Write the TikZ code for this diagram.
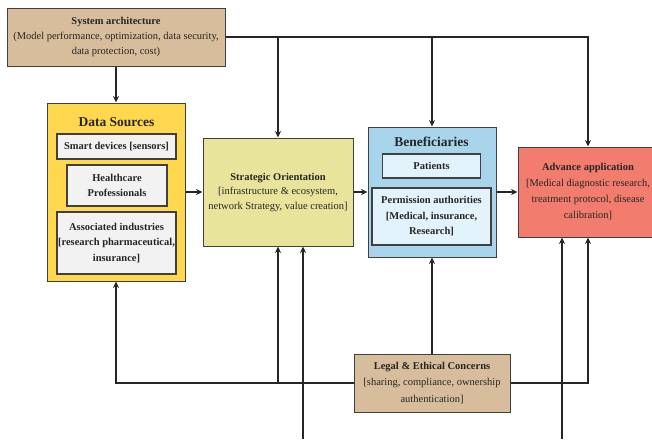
\documentclass[tikz,border=0pt]{standalone}
\usepackage{fontspec}
\setmainfont{Liberation Serif}
\usetikzlibrary{arrows.meta}
\definecolor{tan}{HTML}{D8BD9C}
\definecolor{gold}{HTML}{FFD84F}
\definecolor{khaki}{HTML}{E8E49B}
\definecolor{sky}{HTML}{A9D5EC}
\definecolor{paleblue}{HTML}{E3F3FB}
\definecolor{salmon}{HTML}{F27C6E}
\definecolor{pale}{HTML}{F2F2F2}
\definecolor{ink}{HTML}{262626}
\definecolor{edge}{HTML}{404040}
\tikzset{
  box/.style={draw=edge, line width=1pt, align=center, inner sep=0pt, text=ink,
    font=\fontsize{10.5}{15}\selectfont},
  inbox/.style={box, fill=pale, line width=1.2pt, font=\bfseries\fontsize{10.5}{15.5}\selectfont},
  title/.style={inner sep=0pt, text=ink, font=\bfseries\fontsize{13.5}{15}\selectfont},
  arr/.style={draw=ink, line width=1.7pt, -{Stealth[length=6.5pt,width=6pt]}},
}
\begin{document}
\begin{tikzpicture}[x=1pt,y=-1pt]
\useasboundingbox (0,0) rectangle (652,439);
% nodes
\node[box, fill=tan, minimum width=218pt, minimum height=58pt] (sys) at (116,37)
  {\textbf{System architecture}\\(Model performance, optimization, data security,\\data protection, cost)};
\node[box, fill=gold, minimum width=138pt, minimum height=178pt] (ds) at (116,192) {};
\node[title] (dst) at (116.5,122) {Data Sources};
\node[inbox, minimum width=119pt, minimum height=25pt] (smart) at (116.5,146.5) {Smart devices [sensors]};
\node[inbox, minimum width=100pt, minimum height=41pt] (hc) at (117,185.5) {Healthcare\\Professionals};
\node[inbox, minimum width=119pt, minimum height=62pt] (assoc) at (116.5,243) {Associated industries\\{}[research pharmaceutical,\\insurance]};
\node[box, fill=khaki, minimum width=150pt, minimum height=108pt, font=\fontsize{10.5}{14.5}\selectfont] (strat) at (278,192)
  {\textbf{Strategic Orientation}\\{}[infrastructure \& ecosystem,\\network Strategy, value creation]};
\node[box, fill=sky, minimum width=128pt, minimum height=130pt] (ben) at (432,192) {};
\node[title] (bent) at (431.5,142) {Beneficiaries};
\node[inbox, fill=paleblue, minimum width=98pt, minimum height=24pt] (pat) at (431.5,166) {Patients};
\node[inbox, fill=paleblue, minimum width=119pt, minimum height=57pt] (perm) at (431.5,216.5)
  {Permission authorities\\{}[Medical, insurance,\\Research]};
\node[box, fill=salmon, minimum width=140pt, minimum height=90pt, font=\fontsize{10.5}{16}\selectfont] (adv) at (588,192)
  {\textbf{Advance application}\\{}[Medical diagnostic research,\\treatment protocol, disease\\calibration]};
\node[box, fill=tan, minimum width=156pt, minimum height=58pt, font=\fontsize{10.5}{16.5}\selectfont] (legal) at (432,383)
  {\textbf{Legal \& Ethical Concerns}\\{}[sharing, compliance, ownership\\authentication]};
\coordinate (b1) at (303,439);
\coordinate (b2) at (562,439);
% connectors from system architecture
\draw[arr] (sys.south) -- (ds.north);
\draw[arr] (sys.east) -| (adv.north);
\draw[arr] (sys.east -| strat.north) -- (strat.north);
\draw[arr] (sys.east -| ben.north) -- (ben.north);
% main flow
\draw[arr] (ds.east) -- (strat.west);
\draw[arr] (strat.east) -- (ben.west);
\draw[arr] (ben.east) -- (adv.west);
% legal connectors
\draw[arr] (legal.north) -- (ben.south);
\draw[arr] (legal.west) -| (ds.south);
\draw[arr] (legal.west -| strat.south) -- (strat.south);
\draw[arr] (legal.east) -| (adv.south);
% lines from below
\draw[arr] (b1) -- (b1 |- strat.south);
\draw[arr] (b2) -- (b2 |- adv.south);
\end{tikzpicture}
\end{document}
